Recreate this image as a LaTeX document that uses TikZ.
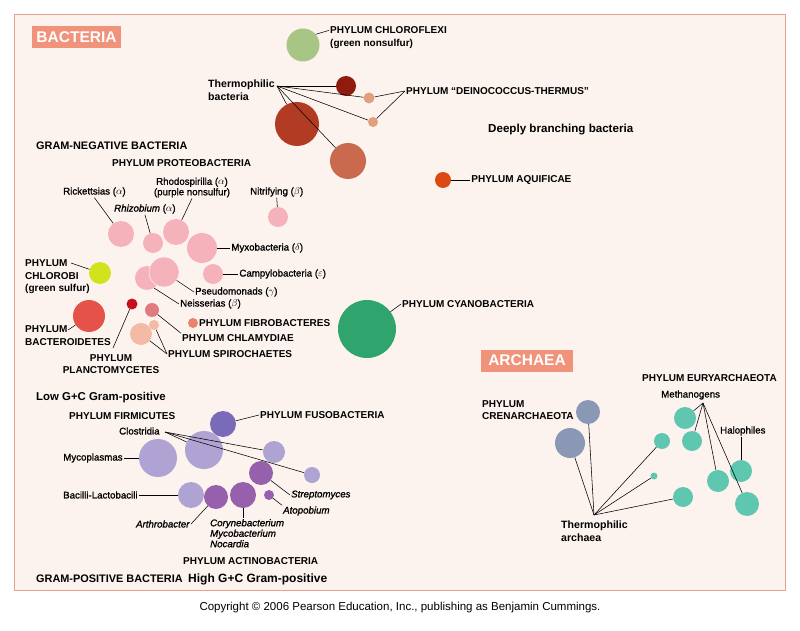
\documentclass[tikz,border=0pt]{standalone}
\usepackage{fontspec}
\setmainfont{Liberation Sans}
\newfontfamily\medsf[FakeBold=1.2]{Liberation Sans}
\usetikzlibrary{positioning}

\definecolor{framec}{HTML}{E8A08A}
\definecolor{bgc}{HTML}{FCF3EF}
\definecolor{tagc}{HTML}{F0937A}
\definecolor{chfc}{HTML}{A7C584}
\definecolor{darkredc}{HTML}{8E1B0E}
\definecolor{peachc}{HTML}{E0A07E}
\definecolor{brickc}{HTML}{B23B23}
\definecolor{terrac}{HTML}{C96A4F}
\definecolor{aquc}{HTML}{DB4A12}
\definecolor{proteoc}{HTML}{F6B2BA}
\definecolor{chlbc}{HTML}{D2E31E}
\definecolor{bactc}{HTML}{E4524A}
\definecolor{planc}{HTML}{C8101A}
\definecolor{chlac}{HTML}{E17B80}
\definecolor{fibc}{HTML}{E98369}
\definecolor{spic}{HTML}{F3BBA5}
\definecolor{cyanc}{HTML}{2FA46C}
\definecolor{crenc}{HTML}{8A97B5}
\definecolor{euryc}{HTML}{5FC6B0}
\definecolor{fusoc}{HTML}{7A6BB8}
\definecolor{lavc}{HTML}{AFA3D3}
\definecolor{actc}{HTML}{9660AD}

\begin{document}
\begin{tikzpicture}[x=1pt,y=-1pt,
  blob/.style={circle,inner sep=0pt},
  lead/.style={line width=0.55pt},
  phy/.style={font=\bfseries\fontsize{10}{12.5}\selectfont,inner sep=1pt,align=left},
  hd/.style={font=\bfseries\fontsize{10.9}{13}\selectfont,inner sep=1pt},
  lb/.style={font=\medsf\fontsize{9.7}{10.5}\selectfont,inner sep=1pt,align=left},
  thermo/.style={font=\bfseries\fontsize{10.6}{12.5}\selectfont,inner sep=1pt,align=left},
  tag/.style={fill=tagc,text=white,font=\bfseries\fontsize{15.5}{16}\selectfont,inner sep=0pt,minimum height=22pt}]
  \fill[white] (0,0) rectangle (800,631);
  \useasboundingbox (0,0) rectangle (800,631);
  \draw[framec,fill=bgc,line width=1pt] (14,15) rectangle (785,590);

  \node[tag,minimum width=89] (bacteria) at (76.5,37) {BACTERIA};
  \node[tag,minimum width=92] (archaea) at (527,360.5) {ARCHAEA};

  \node[blob,fill=chfc,minimum size=33] (chf) at (303,45) {};
  \node[blob,fill=darkredc,minimum size=20] (dr) at (346,86) {};
  \node[blob,fill=peachc,minimum size=11] (pk1) at (369,98) {};
  \node[blob,fill=peachc,minimum size=10] (pk2) at (373,122) {};
  \node[blob,fill=brickc,minimum size=44] (bigr) at (297,124) {};
  \node[blob,fill=terrac,minimum size=36] (medr) at (348,161) {};
  \node[blob,fill=aquc,minimum size=16] (aqu) at (443,180) {};

  \node[phy,anchor=north west] (chfl) at (329,25.4) {PHYLUM CHLOROFLEXI\\(green nonsulfur)};
  \node[thermo,anchor=north west] (thbl) at (207,79) {Thermophilic\\bacteria};
  \coordinate (thb) at (277,86);
  \node[phy,anchor=west] (deinl) at (405,91) {PHYLUM “DEINOCOCCUS-THERMUS”};
  \node[hd,anchor=west,font=\bfseries\fontsize{11.6}{13}\selectfont] (deep) at (487,130) {Deeply branching bacteria};
  \node[phy,right=19pt of aqu] (aqul) {PHYLUM AQUIFICAE};

  \draw[lead] (chf.40) -- ([yshift=-5pt]chfl.north west);
  \foreach \c in {dr,pk1,pk2,bigr,medr}
    \draw[lead] (thb) -- (\c);
  \draw[lead] (deinl.west) -- (pk1);
  \draw[lead] (deinl.west) -- (pk2);
  \draw[lead] (aqu) -- (aqul);

  \node[hd,anchor=west] (gneg) at (35,146) {GRAM-NEGATIVE BACTERIA};
  \node[phy,anchor=west] (proteo) at (111,163) {PHYLUM PROTEOBACTERIA};

  \node[blob,fill=proteoc,minimum size=26] (rick) at (121,234) {};
  \node[blob,fill=proteoc,minimum size=20] (rhiz) at (153,243) {};
  \node[blob,fill=proteoc,minimum size=26] (rhod) at (176,232) {};
  \node[blob,fill=proteoc,minimum size=20] (nitr) at (278,217) {};
  \node[blob,fill=proteoc,minimum size=30] (myxo) at (202,248) {};
  \node[blob,fill=proteoc,minimum size=20] (campy) at (213,274) {};
  \node[blob,fill=proteoc,minimum size=24] (neis) at (147,278) {};
  \node[blob,fill=proteoc,draw=white,line width=0.4pt,minimum size=30] (pseu) at (164,272) {};

  \node[lb,anchor=west] (rickl) at (62,192) {Rickettsias ($\alpha$)};
  \node[lb,align=center] (rhodl) at (192,187.5) {Rhodospirilla ($\alpha$)\\(purple nonsulfur)};
  \node[lb,anchor=west] (nitl) at (249,192) {Nitrifying ($\beta$)};
  \node[lb,anchor=west] (rhizl) at (113,209) {\textit{Rhizobium} ($\alpha$)};
  \node[lb,right=13pt of myxo] (myxol) {Myxobacteria ($\delta$)};
  \node[lb,right=15pt of campy] (campyl) {Campylobacteria ($\varepsilon$)};
  \node[lb,anchor=west] (pseul) at (194,292) {Pseudomonads ($\gamma$)};
  \node[lb,anchor=west] (neisl) at (179,304) {Neisserias ($\beta$)};

  \draw[lead] (rickl.south) -- (rick);
  \draw[lead] (rhizl.south) -- (rhiz);
  \draw[lead] (rhodl.south) -- (rhod);
  \draw[lead] (nitl.south) -- (nitr);
  \draw[lead] (myxo) -- (myxol);
  \draw[lead] (campy) -- (campyl);
  \draw[lead] (pseu) -- (pseul.west);
  \draw[lead] (neis.-55) -- (neisl.west);

  \node[blob,fill=chlbc,minimum size=22] (chlb) at (100,273) {};
  \node[blob,fill=bactc,minimum size=32] (bact) at (89,316) {};
  \node[blob,fill=planc,minimum size=11] (plan) at (132,304) {};
  \node[blob,fill=chlac,minimum size=14] (chla) at (152,310) {};
  \node[blob,fill=fibc,minimum size=10] (fibr) at (193,323) {};
  \node[blob,fill=spic,minimum size=22] (spi1) at (141,334) {};
  \node[blob,fill=spic,minimum size=10] (spi2) at (154,325) {};
  \node[blob,fill=cyanc,minimum size=58] (cyan) at (367,329) {};

  \node[phy,anchor=north west] (chlbl) at (24,258.5) {PHYLUM\\CHLOROBI\\(green sulfur)};
  \coordinate (chlbt) at (71,263);
  \node[phy,anchor=north west] (bactl) at (24,324.5) {PHYLUM\\BACTEROIDETES};
  \coordinate (bactt) at (68,330);
  \node[phy,align=center,anchor=north] (planl) at (111,353) {PHYLUM\\PLANCTOMYCETES};
  \coordinate (plant) at (113,348);
  \node[phy,anchor=west] (chlal) at (181,338) {PHYLUM CHLAMYDIAE};
  \node[phy,anchor=west] (fibl) at (198,323) {PHYLUM FIBROBACTERES};
  \node[phy,anchor=west] (spil) at (167,354) {PHYLUM SPIROCHAETES};
  \node[phy,anchor=west] (cyanl) at (401,304) {PHYLUM CYANOBACTERIA};

  \draw[lead] (chlbt) -- (chlb);
  \draw[lead] (bactt) -- (bact);
  \draw[lead] (plant) -- (plan);
  \draw[lead] (chla) -- (chlal.north west);
  \draw[lead] (spil.west) -- (spi1);
  \draw[lead] (spil.west) -- (spi2);
  \draw[lead] (cyan) -- (cyanl.west);

  \node[blob,fill=crenc,minimum size=24] (cren1) at (588,412) {};
  \node[blob,fill=crenc,minimum size=30] (cren2) at (570,443) {};
  \node[blob,fill=euryc,minimum size=16] (eua) at (662,441) {};
  \node[blob,fill=euryc,minimum size=7] (eub) at (654,476) {};
  \node[blob,fill=euryc,minimum size=20] (euc) at (683,497) {};
  \node[blob,fill=euryc,minimum size=22] (eud) at (685,418) {};
  \node[blob,fill=euryc,minimum size=20] (eue) at (692,441) {};
  \node[blob,fill=euryc,minimum size=22] (euf) at (718,481) {};
  \node[blob,fill=euryc,minimum size=22] (eug) at (741,471) {};
  \node[blob,fill=euryc,minimum size=24] (euh) at (747,504) {};

  \node[phy,anchor=west] (euryl) at (641,378) {PHYLUM EURYARCHAEOTA};
  \node[lb,anchor=west] (methl) at (660,395) {Methanogens};
  \coordinate (mth) at (703,403);
  \node[lb,anchor=west] (halol) at (719,431) {Halophiles};
  \node[phy,anchor=north west] (crenl) at (481,399.4) {PHYLUM\\CRENARCHAEOTA};
  \node[thermo,anchor=north west] (thal) at (560,520) {Thermophilic\\archaea};
  \coordinate (tha) at (594,515);

  \foreach \c in {cren1,cren2,eua,eub,euc}
    \draw[lead] (tha) -- (\c);
  \foreach \c in {eud,eue,euf,euh}
    \draw[lead] (mth) -- (\c);
  \draw[lead] (eug |- halol.south) -- (eug);

  \node[hd,anchor=west,font=\bfseries\fontsize{11.4}{13}\selectfont] (lowgc) at (35,398) {Low G+C Gram-positive};
  \node[phy,anchor=west] (firml) at (68,416) {PHYLUM FIRMICUTES};

  \node[blob,fill=lavc,minimum size=38] (clo) at (204,450) {};
  \node[blob,fill=fusoc,minimum size=26] (fuso) at (223,424) {};
  \node[blob,fill=lavc,minimum size=38] (myco) at (158,458) {};
  \node[blob,fill=lavc,minimum size=22] (lav1) at (274,452) {};
  \node[blob,fill=lavc,minimum size=16] (lav2) at (312,475) {};
  \node[blob,fill=actc,minimum size=24] (strp) at (261,473) {};
  \node[blob,fill=lavc,minimum size=26] (baci) at (191,495) {};
  \node[blob,fill=actc,minimum size=24] (arth) at (216,497) {};
  \node[blob,fill=actc,minimum size=26] (cory) at (243,495) {};
  \node[blob,fill=actc,minimum size=10] (atop) at (269,495) {};

  \node[phy,anchor=west] (fusol) at (259,415) {PHYLUM FUSOBACTERIA};
  \node[lb,anchor=west] (clol) at (118,431) {Clostridia};
  \coordinate (clt) at (165,432);
  \node[lb,left=15pt of myco] (mycol) {Mycoplasmas};
  \node[lb,anchor=west] (bacil) at (62,495) {Bacilli-Lactobacili};
  \node[lb,anchor=west] (strpl) at (290,495) {\textit{Streptomyces}};
  \node[lb,anchor=west] (atopl) at (282,511) {\textit{Atopobium}};
  \node[lb,anchor=east] (arthl) at (191,524) {\textit{Arthrobacter}};
  \node[lb,anchor=north west,font=\medsf\itshape\fontsize{9.7}{10.5}\selectfont] (coryl) at (209,518) {Corynebacterium\\Mycobacterium\\Nocardia};
  \node[phy,anchor=west] (actl) at (182,561) {PHYLUM ACTINOBACTERIA};

  \draw[lead] (fuso) -- (fusol.west);
  \foreach \c in {clo,lav1,lav2}
    \draw[lead] (clt) -- (\c);
  \draw[lead] (mycol) -- (myco);
  \draw[lead] (bacil.east) -- (baci);
  \draw[lead] (strp) -- (strpl.west);
  \draw[lead] (atop) -- (atopl.north west);
  \draw[lead] (arthl.east) -- (arth);
  \draw[lead] (cory) -- (cory |- coryl.north);

  \node[hd,anchor=west] (gpos) at (35,579) {GRAM-POSITIVE BACTERIA};
  \node[hd,anchor=west,font=\bfseries\fontsize{12}{13}\selectfont] (highgc) at (187,579) {High G+C Gram-positive};

  \node[font=\fontsize{11.5}{13}\selectfont] (copy) at (400,608) {Copyright © 2006 Pearson Education, Inc., publishing as Benjamin Cummings.};
\end{tikzpicture}
\end{document}
